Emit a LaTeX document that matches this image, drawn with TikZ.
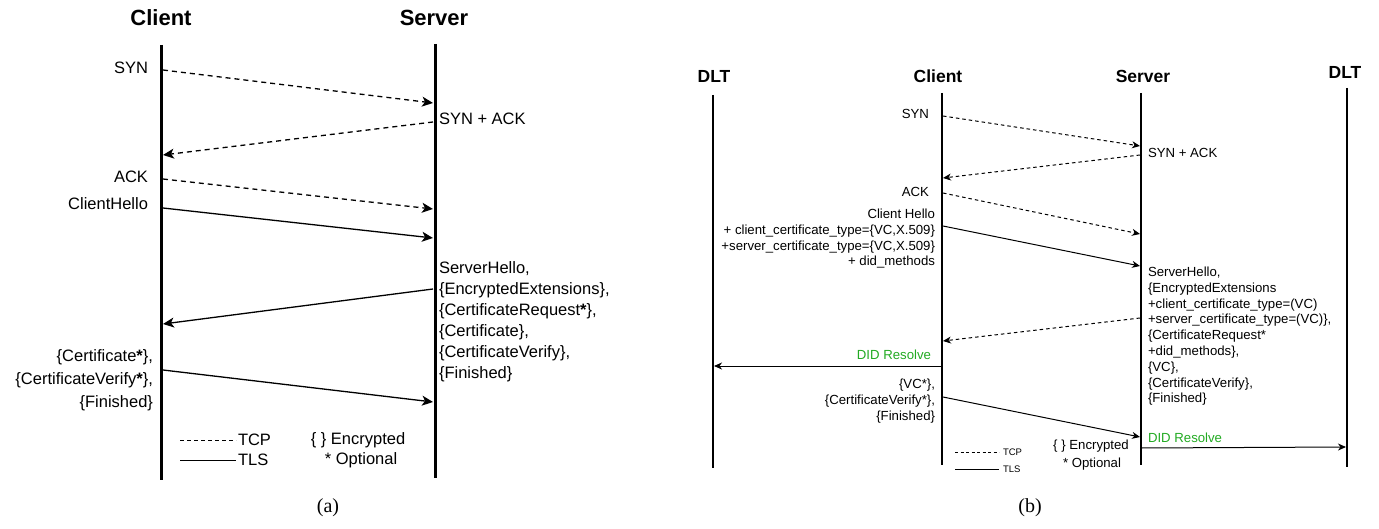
\documentclass[tikz,border=0pt]{standalone}
\usepackage{fontspec}
\setmainfont{Liberation Sans}
\newfontfamily\capfont{Liberation Serif}
\usetikzlibrary{arrows}
\usetikzlibrary{arrows.meta}
\usetikzlibrary{positioning}
\usetikzlibrary{calc}
\definecolor{didgreen}{RGB}{34,170,34}

\begin{document}
\begin{tikzpicture}[x=1pt,y=-1pt,semithick]
					\tikzstyle{every node}=[inner sep=0pt,outer sep=0pt]
					\tikzstyle{titleA}=[font=\fontsize{22}{26}\selectfont\bfseries]
					\tikzstyle{titleB}=[font=\fontsize{17.5}{21}\selectfont\bfseries]
					\tikzstyle{msgA}=[font=\fontsize{16.5}{21}\selectfont]
					\tikzstyle{msgB}=[font=\fontsize{13.2}{15.8}\selectfont]
					\tikzstyle{keyB}=[font=\fontsize{9.5}{11}\selectfont]
					\tikzstyle{capt}=[font=\capfont\fontsize{20}{24}\selectfont]
					\tikzstyle{lifeA}=[line width=3pt]
					\tikzstyle{lifeB}=[line width=2.2pt]
					\tikzstyle{tlsA}=[->,line width=1.3pt,>={Stealth[length=11pt,width=10pt,inset=3pt]}]
					\tikzstyle{tcpA}=[tlsA,dash pattern=on 5pt off 4pt]
					\tikzstyle{tlsB}=[->,line width=1pt,>={Stealth[length=8pt,width=7pt,inset=2.5pt]}]
					\tikzstyle{tcpB}=[tlsB,dash pattern=on 3.5pt off 3pt]
					
					\useasboundingbox (0,0) rectangle (1379,529);
					
					% (a)
					\node[titleA] (clientA) at (161,18) {Client};
					\node[titleA] (serverA) at (434,18) {Server};
					\coordinate (clientA top) at (161,45);
					\coordinate (clientA bot) at (161,480);
					\coordinate (serverA top) at (435,44);
					\coordinate (serverA bot) at (435,478);
					\draw[lifeA] (clientA top) -- (clientA bot);
					\draw[lifeA] (serverA top) -- (serverA bot);
					
					\coordinate (cA1) at (163,70);  \coordinate (sA1) at (433,103);
					\coordinate (sA2) at (433,122); \coordinate (cA2) at (163,155);
					\coordinate (cA3) at (163,179); \coordinate (sA3) at (433,209);
					\coordinate (cA4) at (163,208); \coordinate (sA4) at (433,238);
					\coordinate (sA5) at (433,289); \coordinate (cA5) at (163,324);
					\coordinate (cA6) at (163,370); \coordinate (sA6) at (433,402);
					
					\path (cA1) edge[tcpA] (sA1)
					(sA2) edge[tcpA] (cA2)
					(cA3) edge[tcpA] (sA3)
					(cA4) edge[tlsA] (sA4)
					(sA5) edge[tlsA] (cA5)
					(cA6) edge[tlsA] (sA6);
					
					\node[msgA,anchor=east] (synA) at (148,68) {SYN};
					\node[msgA,anchor=west] (synackA) at (439,119) {SYN + ACK};
					\node[msgA,anchor=east] (ackA) at (148,177) {ACK};
					\node[msgA,anchor=east] (chelloA) at (148,204) {ClientHello};
					\node[msgA,anchor=north west,align=left] (shelloA) at (439,262)
					{ServerHello,\\\{EncryptedExtensions\},\\\{CertificateRequest\textbf{*}\},\\\{Certificate\},\\\{CertificateVerify\},\\\{Finished\}};
					\node[msgA,anchor=north east,align=right,font=\fontsize{16.5}{23}\selectfont] (cfinA) at (153,350)
					{\{Certificate\textbf{*}\},\\\{CertificateVerify\textbf{*}\},\\\{Finished\}};
					
					\node[msgA,anchor=west] (tcpkeyA) at (238,440) {TCP};
					\node[msgA,anchor=west] (tlskeyA) at (238,460) {TLS};
					\coordinate (tcpkeyA0) at (180,440);
					\coordinate (tlskeyA0) at (180,460);
					\draw[thin,dash pattern=on 4pt off 3pt] (tcpkeyA0) -- ([xshift=-2pt]tcpkeyA.west);
					\draw[thin] (tlskeyA0) -- ([xshift=-2pt]tlskeyA.west);
					\node[msgA] (encA) at (358,440) {\{ \} Encrypted};
					\node[msgA] (optA) at (361,460) {* Optional};
					
					\node[capt] (capA) at (328,508) {(a)};
					
					% (b)
					\node[titleB] (dltL) at (714,76) {DLT};
					\node[titleB] (clientB) at (938,76) {Client};
					\node[titleB] (serverB) at (1143,76) {Server};
					\node[titleB] (dltR) at (1345,72) {DLT};
					\coordinate (dltL top) at (713,95);
					\coordinate (dltL bot) at (713,468);
					\coordinate (clientB top) at (942,93);
					\coordinate (clientB bot) at (942,465);
					\coordinate (serverB top) at (1141,93);
					\coordinate (serverB bot) at (1141,465);
					\coordinate (dltR top) at (1347,88);
					\coordinate (dltR bot) at (1347,467);
					\draw[lifeB] (dltL top) -- (dltL bot);
					\draw[lifeB] (clientB top) -- (clientB bot);
					\draw[lifeB] (serverB top) -- (serverB bot);
					\draw[lifeB] (dltR top) -- (dltR bot);
					
					\coordinate (cB1) at (943,116);  \coordinate (sB1) at (1140,146);
					\coordinate (sB2) at (1140,155); \coordinate (cB2) at (943,178);
					\coordinate (cB3) at (943,193);  \coordinate (sB3) at (1140,234);
					\coordinate (cB4) at (943,226);  \coordinate (sB4) at (1140,266);
					\coordinate (sB5) at (1140,318); \coordinate (cB5) at (943,341);
					\coordinate (cB6) at (942,366);  \coordinate (lB6) at (714,366);
					\coordinate (cB7) at (943,397);  \coordinate (sB7) at (1140,437);
					\coordinate (sB8) at (1142,448); \coordinate (rB8) at (1346,447);
					
					\path (cB1) edge[tcpB] (sB1)
					(sB2) edge[tcpB] (cB2)
					(cB3) edge[tcpB] (sB3)
					(cB4) edge[tlsB] (sB4)
					(sB5) edge[tcpB] (cB5)
					(cB6) edge[tlsB] (lB6)
					(cB7) edge[tlsB] (sB7)
					(sB8) edge[tlsB] (rB8);
					
					\node[msgB,anchor=east] (synB) at (929,114) {SYN};
					\node[msgB,anchor=west] (synackB) at (1148,153) {SYN + ACK};
					\node[msgB,anchor=east] (ackB) at (929,192) {ACK};
					\node[msgB,anchor=north east,align=right] (chelloB) at (935,209)
					{Client Hello\\+ client\_certificate\_type=\{VC,X.509\}\\+server\_certificate\_type=\{VC,X.509\}\\+ did\_methods};
					\node[msgB,anchor=north west,align=left] (shelloB) at (1148,267)
					{ServerHello,\\\{EncryptedExtensions\\+client\_certificate\_type=(VC)\\+server\_certificate\_type=(VC)\},\\\{CertificateRequest*\\+did\_methods\},\\\{VC\},\\\{CertificateVerify\},\\\{Finished\}};
					\node[msgB,anchor=east,text=didgreen] (resolveL) at (931,355) {DID Resolve};
					\node[msgB,anchor=north east,align=right] (cfinB) at (935,379)
					{\{VC*\},\\\{CertificateVerify*\},\\\{Finished\}};
					\node[msgB,anchor=west,text=didgreen] (resolveR) at (1148,438) {DID Resolve};
					
					\node[keyB,anchor=west] (tcpkeyB) at (1003,452) {TCP};
					\node[keyB,anchor=west] (tlskeyB) at (1003,469) {TLS};
					\coordinate (tcpkeyB0) at (955,452);
					\coordinate (tlskeyB0) at (955,469);
					\draw[line width=0.7pt,dash pattern=on 3pt off 2.5pt] (tcpkeyB0) -- ([xshift=-4pt]tcpkeyB.west);
					\draw[line width=0.7pt] (tlskeyB0) -- ([xshift=-4pt]tlskeyB.west);
					\node[msgB] (encB) at (1091,446) {\{ \} Encrypted};
					\node[msgB] (optB) at (1092,464) {* Optional};
					
					\node[capt] (capB) at (1030,508) {(b)};
\end{tikzpicture}
\end{document}
